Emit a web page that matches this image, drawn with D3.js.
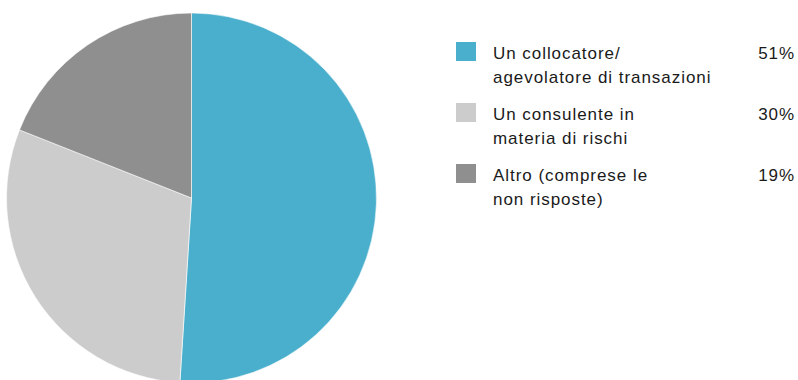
<!DOCTYPE html>
<html>
<head>
<meta charset="utf-8">
<script src="https://cdn.jsdelivr.net/npm/d3@7"></script>
<style>
  html, body { margin: 0; padding: 0; background: #fff; }
  svg { display: block; }
  text { font-family: "Liberation Sans", Arial, sans-serif; fill: #1a1a1a; letter-spacing: 0.95px; }
</style>
</head>
<body>
<svg id="chart" width="798" height="380"></svg>
<script>
// Ruolo percepito: quote di risposta
const categories = ["Un collocatore/\nagevolatore di transazioni", "Un consulente in\nmateria di rischi", "Altro (comprese le\nnon risposte)"];
const values = [51, 30, 19];
const valueLabels = ["51%", "30%", "19%"];
const colors = ["#4aafcc", "#cccccc", "#8f8f8f"];

const svg = d3.select("#chart");
const cx = 191.5, cy = 198, r = 185;

const pie = d3.pie().sort(null).value(d => d.v);
const arc = d3.arc().innerRadius(0).outerRadius(r);
const data = values.map((v, i) => ({ v, i }));

svg.append("g")
  .attr("transform", `translate(${cx},${cy})`)
  .selectAll("path")
  .data(pie(data))
  .join("path")
  .attr("d", arc)
  .attr("fill", d => colors[d.data.i])
  .attr("stroke", "#fff")
  .attr("stroke-width", 0.6);

// Legenda
const rowY = d3.scalePoint().domain(d3.range(categories.length)).range([42, 164]);
const legend = svg.append("g");
const rows = legend.selectAll("g").data(categories).join("g")
  .attr("transform", (d, i) => `translate(0,${rowY(i)})`);

rows.append("rect")
  .attr("x", 456).attr("y", 0).attr("width", 20).attr("height", 19)
  .attr("fill", (d, i) => colors[i]);

rows.append("text")
  .attr("x", 493).attr("y", 17.3)
  .attr("font-size", 17)
  .selectAll("tspan")
  .data(d => d.split("\n"))
  .join("tspan")
  .attr("x", 493)
  .attr("dy", (d, j) => j === 0 ? 0 : 23.7)
  .text(d => d);

rows.append("text")
  .attr("x", 795).attr("y", 17.3)
  .attr("text-anchor", "end")
  .attr("font-size", 17)
  .text((d, i) => valueLabels[i]);
</script>
</body>
</html>
